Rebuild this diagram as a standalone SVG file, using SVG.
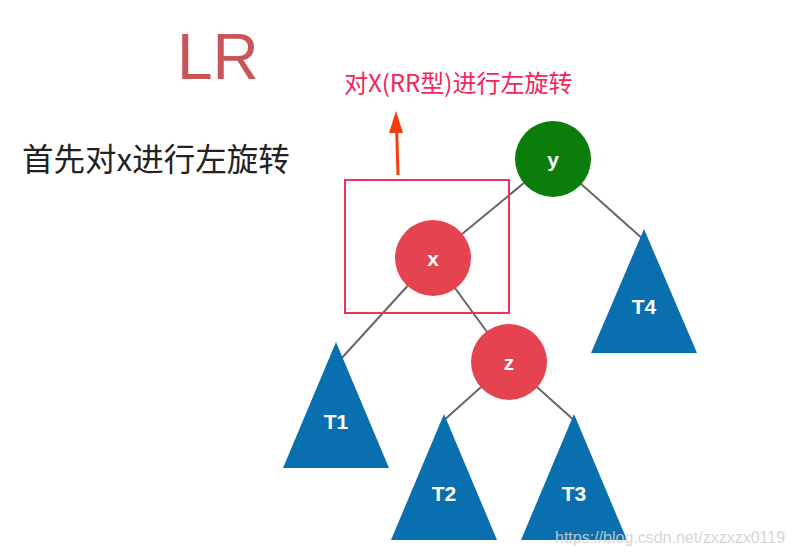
<svg xmlns="http://www.w3.org/2000/svg" width="794" height="554" viewBox="0 0 794 554">
<defs>
<style>
.edge{stroke:#666;stroke-width:2;fill:none}
.circ{stroke:none}
.red{fill:#e5434f}
.green{fill:#0a7d0a}
.tri{fill:#0a6fae}
.lbl{font-family:"Liberation Sans",Arial,sans-serif;font-weight:bold;fill:#fff;text-anchor:middle}
</style>
</defs>
<rect width="794" height="554" fill="#fff"/>
<text x="177" y="79" font-family="Liberation Sans,Arial,sans-serif" font-size="64" fill="#c9545a">LR</text>
<text x="22" y="171" font-family="'Noto Sans CJK SC','Liberation Sans',sans-serif" font-size="31.5" fill="#222">首先对x进行左旋转</text>
<text x="344" y="92" font-family="'Noto Sans CJK SC','Liberation Sans',sans-serif" font-size="24" fill="#f5245a">对X(RR型)进行左旋转</text>
<g id="connectors">
<line class="edge" x1="553" y1="159" x2="433" y2="258"/>
<line class="edge" x1="553" y1="159" x2="644" y2="240"/>
<line class="edge" x1="433" y1="258" x2="340" y2="360"/>
<line class="edge" x1="433" y1="258" x2="509" y2="362"/>
<line class="edge" x1="509" y1="362" x2="442" y2="422"/>
<line class="edge" x1="509" y1="362" x2="576" y2="422"/>
<line x1="398" y1="175" x2="396.5" y2="125" stroke="#f53d0c" stroke-width="3"/>
<polygon points="396,111 403,133 389,133" fill="#f53d0c"/>
</g>
<g id="box"><rect x="345" y="180" width="164" height="133" fill="none" stroke="#f5305a" stroke-width="2"/></g>
<g id="node-y"><circle class="circ green" cx="553" cy="159" r="38"/><text class="lbl" x="553" y="167" font-size="21">y</text></g>
<g id="node-x"><circle class="circ red" cx="433" cy="258" r="38"/><text class="lbl" x="433" y="266" font-size="21">x</text></g>
<g id="node-z"><circle class="circ red" cx="509" cy="362" r="38"/><text class="lbl" x="509" y="370" font-size="21">z</text></g>
<g id="node-T1"><polygon class="tri" points="336,342 389,468 283,468"/><text class="lbl" x="336" y="429" font-size="21">T1</text></g>
<g id="node-T2"><polygon class="tri" points="444,414 497,540 391,540"/><text class="lbl" x="444" y="501" font-size="21">T2</text></g>
<g id="node-T3"><polygon class="tri" points="574,414 627,540 521,540"/><text class="lbl" x="574" y="501" font-size="21">T3</text></g>
<g id="node-T4"><polygon class="tri" points="644,229 697,353 591,353"/><text class="lbl" x="644" y="314" font-size="21">T4</text></g>
<text x="555" y="543" font-family="Liberation Sans,Arial,sans-serif" font-size="16" fill="#d0d0d0" fill-opacity="0.9">https://blog.csdn.net/zxzxzx0119</text>
</svg>
